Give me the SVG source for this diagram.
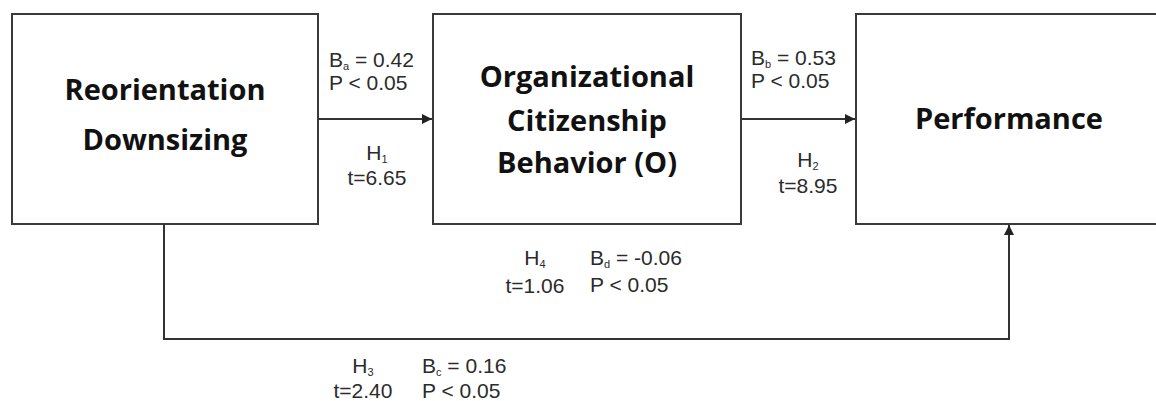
<svg xmlns="http://www.w3.org/2000/svg" width="1156" height="401" viewBox="0 0 1156 401">
<style>
.box{fill:#fff;stroke:#3a3a3a;stroke-width:2}
.title{font-family:"Open Sans","Liberation Sans",sans-serif;font-weight:bold;font-size:29px;fill:#111;text-anchor:middle}
.lbl{font-family:"Liberation Sans",Arial,sans-serif;font-size:21px;fill:#2b2b2b}
.sub{font-size:11px}
.mid{text-anchor:middle}
.conn{fill:none;stroke:#333;stroke-width:2}
</style>
<defs>
<marker id="arr" viewBox="0 0 10 10" refX="10" refY="5" markerWidth="5" markerHeight="5" orient="auto" markerUnits="strokeWidth">
<path d="M0,0 L10,5 L0,10 z" fill="#222"/>
</marker>
</defs>
<rect width="1156" height="401" fill="#fff"/>
<g id="node-reorientation">
<rect class="box" x="12" y="14" width="306" height="210"/>
<text class="title" x="165" y="100">Reorientation</text>
<text class="title" x="165" y="150">Downsizing</text>
</g>
<g id="node-ocb">
<rect class="box" x="433" y="14" width="308" height="210"/>
<text class="title" x="587" y="87">Organizational</text>
<text class="title" x="587" y="131">Citizenship</text>
<text class="title" x="587" y="173">Behavior (O)</text>
</g>
<g id="node-performance">
<rect class="box" x="856" y="14" width="310" height="210"/>
<text class="title" x="1009" y="129">Performance</text>
</g>
<g id="connectors">
<line class="conn" x1="318" y1="119" x2="432" y2="119" marker-end="url(#arr)"/>
<line class="conn" x1="741" y1="119" x2="855" y2="119" marker-end="url(#arr)"/>
<polyline class="conn" points="164,224 164,339 1009,339 1009,225" marker-end="url(#arr)"/>
</g>
<g id="labels">
<text class="lbl" x="329" y="67">B<tspan class="sub" dy="3">a</tspan><tspan dy="-3"> = 0.42</tspan></text>
<text class="lbl" x="329" y="90">P &lt; 0.05</text>
<text class="lbl mid" x="377" y="160">H<tspan class="sub" dy="3">1</tspan></text>
<text class="lbl mid" x="377" y="185">t=6.65</text>

<text class="lbl" x="751" y="65">B<tspan class="sub" dy="3">b</tspan><tspan dy="-3"> = 0.53</tspan></text>
<text class="lbl" x="751" y="88">P &lt; 0.05</text>
<text class="lbl mid" x="808" y="167">H<tspan class="sub" dy="3">2</tspan></text>
<text class="lbl mid" x="808" y="193">t=8.95</text>

<text class="lbl mid" x="535" y="265">H<tspan class="sub" dy="3">4</tspan></text>
<text class="lbl mid" x="535" y="293">t=1.06</text>
<text class="lbl" x="590" y="265">B<tspan class="sub" dy="3">d</tspan><tspan dy="-3"> = -0.06</tspan></text>
<text class="lbl" x="590" y="292">P &lt; 0.05</text>

<text class="lbl mid" x="363" y="373">H<tspan class="sub" dy="3">3</tspan></text>
<text class="lbl mid" x="363" y="398">t=2.40</text>
<text class="lbl" x="422" y="373">B<tspan class="sub" dy="3">c</tspan><tspan dy="-3"> = 0.16</tspan></text>
<text class="lbl" x="422" y="398">P &lt; 0.05</text>
</g>
</svg>
